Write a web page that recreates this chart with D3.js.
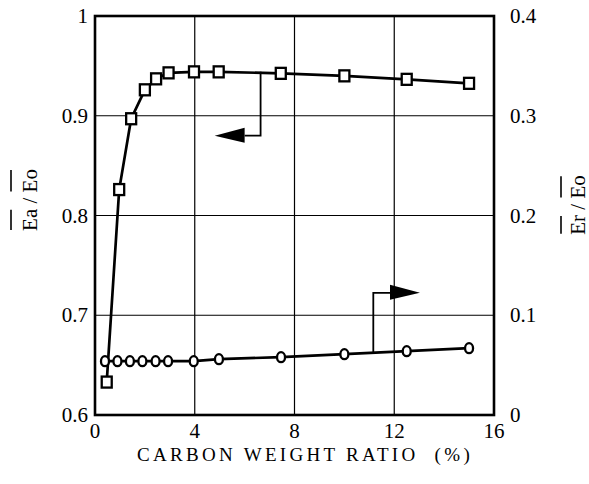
<!DOCTYPE html>
<html><head><meta charset="utf-8">
<script src="https://cdn.jsdelivr.net/npm/d3@7"></script>
<style>body{margin:0;background:#fff} svg text{font-family:"Liberation Serif","DejaVu Serif",serif;}</style></head>
<body><svg id="c" width="589" height="484"></svg>
<script>
const xTicks = [0, 4, 8, 12, 16];
const yLeftTicks = [0.6, 0.7, 0.8, 0.9, 1];
const yRightTicks = [0, 0.1, 0.2, 0.3, 0.4];
const eaX = [0.47, 0.97, 1.45, 2.0, 2.45, 2.95, 3.97, 4.96, 7.45, 10.0, 12.5, 15.0];
const eaVal = [0.633, 0.826, 0.897, 0.926, 0.937, 0.943, 0.944, 0.944, 0.9425, 0.940, 0.9365, 0.9325];
const erX = [0.4, 0.9, 1.4, 1.9, 2.43, 2.93, 3.96, 4.97, 7.46, 10.0, 12.5, 15.0];
const erVal = [0.054, 0.054, 0.054, 0.054, 0.054, 0.054, 0.054, 0.056, 0.058, 0.061, 0.064, 0.067];
const xTitle = "CARBON WEIGHT RATIO  (%)";
// annotation arrows (data coords)
const arrowLeft = {x: 6.64, yFrom: 0.944, yTo: 0.88, base: 6.0, tip: 4.8};
const arrowRight = {x: 11.16, yFrom: 0.0625, yTo: 0.1225, base: 11.83, tip: 13.03};

const svg = d3.select("#c");
const L = 95, R = 494, T = 16, B = 415;
const x = d3.scaleLinear().domain([0, 16]).range([L, R]);
const yL = d3.scaleLinear().domain([0.6, 1]).range([B, T]);
const yR = d3.scaleLinear().domain([0, 0.4]).range([B, T]);

// grid
const g = svg.append("g");
g.selectAll(".gx").data(xTicks.slice(1, -1)).join("line")
  .attr("x1", d => x(d)).attr("x2", d => x(d)).attr("y1", T).attr("y2", B)
  .attr("stroke", "#000").attr("stroke-width", 1.2);
g.selectAll(".gy").data(yLeftTicks.slice(1, -1)).join("line")
  .attr("x1", L).attr("x2", R).attr("y1", d => yL(d)).attr("y2", d => yL(d))
  .attr("stroke", "#000").attr("stroke-width", 1.2);

// axes tick labels
const fmt = d => (d === 0 ? "0" : d === 1 ? "1" : d.toFixed(1));
svg.append("g").selectAll("text").data(yLeftTicks).join("text")
  .attr("x", 88).attr("y", d => yL(d) + 7).attr("text-anchor", "end")
  .attr("font-size", 21).text(fmt);
svg.append("g").selectAll("text").data(yRightTicks).join("text")
  .attr("x", 510).attr("y", d => yR(d) + 7).attr("text-anchor", "start")
  .attr("font-size", 21).text(fmt);
svg.append("g").selectAll("text").data(xTicks).join("text")
  .attr("x", d => x(d)).attr("y", 438).attr("text-anchor", "middle")
  .attr("font-size", 21).text(d => d);

svg.append("text").attr("x", 305).attr("y", 461).attr("text-anchor", "middle")
  .attr("font-size", 19).attr("letter-spacing", 3.3)
  .style("white-space", "pre").text(xTitle);

// y titles with overlines
function vTitle(tx, ty, parts, overGap) {
  const gg = svg.append("g").attr("transform", `translate(${tx},${ty}) rotate(-90)`);
  const t = gg.append("text").attr("text-anchor", "middle")
    .attr("font-size", 21)
    .style("white-space", "pre").text(parts.join(""));
  const node = t.node();
  let idx = 0;
  parts.forEach((p, i) => {
    if (i % 2 === 0) {
      const s = node.getStartPositionOfChar(idx).x;
      const w = node.getSubStringLength(idx, p.length);
      gg.append("line").attr("x1", s + 1).attr("x2", s + w - 1)
        .attr("y1", -overGap).attr("y2", -overGap)
        .attr("stroke", "#000").attr("stroke-width", 1.6);
    }
    idx += p.length;
  });
}
vTitle(37, 200, ["Ea", " / ", "Eo"], 26);
vTitle(585, 205, ["Er", " / ", "Eo"], 24);

// lines
const lineL = d3.line().x(d => x(d[0])).y(d => yL(d[1]));
const lineR = d3.line().x(d => x(d[0])).y(d => yR(d[1]));
const ea = eaX.map((v, i) => [v, eaVal[i]]);
const er = erX.map((v, i) => [v, erVal[i]]);
svg.append("path").attr("d", lineL(ea)).attr("fill", "none").attr("stroke", "#000").attr("stroke-width", 2.7);
svg.append("path").attr("d", lineR(er)).attr("fill", "none").attr("stroke", "#000").attr("stroke-width", 2.7);

// arrows
function arrow(a, ys) {
  const px = x(a.x), y0 = ys(a.yFrom), y1 = ys(a.yTo);
  svg.append("path").attr("d", `M${px},${y0}V${y1}H${x(a.base)}`)
    .attr("fill", "none").attr("stroke", "#000").attr("stroke-width", 1.8);
  svg.append("path")
    .attr("d", `M${x(a.tip)},${y1}L${x(a.base)},${y1 - 8}L${x(a.base)},${y1 + 7}Z`)
    .attr("fill", "#000");
}
arrow(arrowLeft, yL);
arrow(arrowRight, yR);

// markers
svg.append("g").selectAll("ellipse").data(er).join("ellipse")
  .attr("cx", d => x(d[0])).attr("cy", d => yR(d[1])).attr("rx", 4).attr("ry", 5)
  .attr("fill", "#fff").attr("stroke", "#000").attr("stroke-width", 2.3);
svg.append("g").selectAll("rect").data(ea).join("rect")
  .attr("x", d => x(d[0]) - 5).attr("y", d => yL(d[1]) - 5.5).attr("width", 10).attr("height", 11)
  .attr("fill", "#fff").attr("stroke", "#000").attr("stroke-width", 2.3);

// frame
svg.append("rect").attr("x", L).attr("y", T).attr("width", R - L).attr("height", B - T)
  .attr("fill", "none").attr("stroke", "#000").attr("stroke-width", 2.6);
</script></body></html>
